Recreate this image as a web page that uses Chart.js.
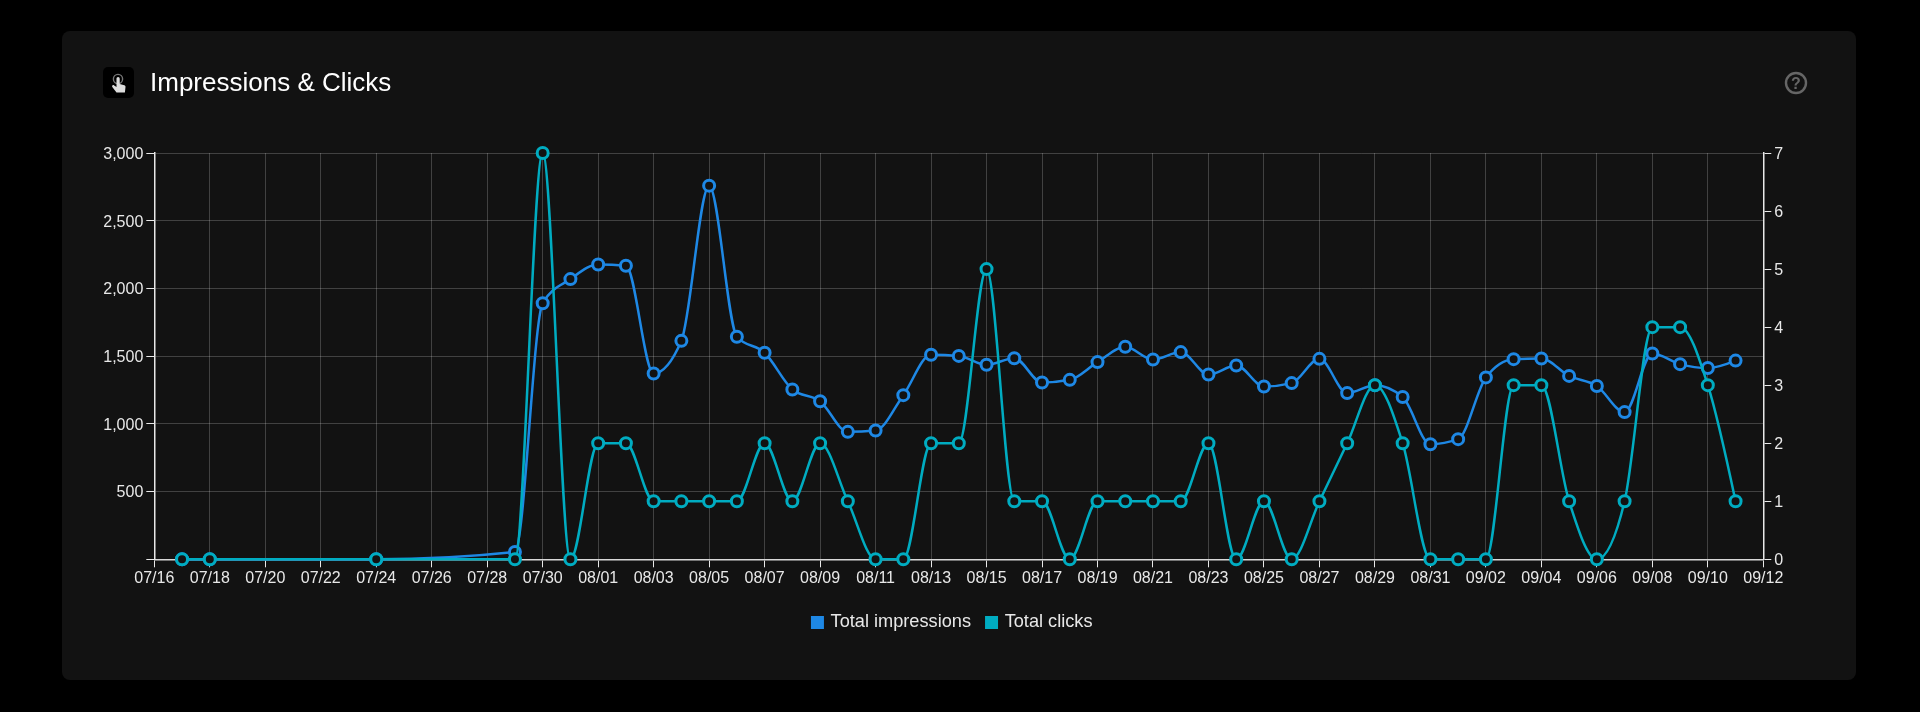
<!DOCTYPE html>
<html>
<head>
<meta charset="utf-8">
<title>Impressions & Clicks</title>
<script src="https://cdn.jsdelivr.net/npm/chart.js@4"></script>
<style>
    html, body { margin: 0; height: 100%; background: #000; overflow: hidden; font-family: "Liberation Sans", Arial, sans-serif; }
    .card { position: absolute; left: 62px; top: 31px; width: 1794px; height: 649px; background: #121212; border-radius: 8px; }
    .icon { position: absolute; left: 40.5px; top: 36px; width: 31px; height: 31px; }
    h1 { position: absolute; left: 88px; top: 35px; margin: 0; font-size: 26px; line-height: 32px; font-weight: 400; color: #fff; }
    .help { position: absolute; left: 1722px; top: 40px; width: 24px; height: 24px; }
    .chart-wrap { position: absolute; left: 0; top: 0; width: 1794px; height: 649px; }
</style>
</head>
<body>
<div class="card">
    <div class="chart-wrap"><canvas id="impressionsChart"></canvas></div>
    <svg class="icon" viewBox="0 0 31 31">
        <rect width="31" height="31" rx="5" fill="#000"/>
        <circle cx="15" cy="12" r="4.6" fill="none" stroke="#777" stroke-width="1.4"/>
        <path d="M13.5 11.5a1.6 1.6 0 0 1 3.2 0v5.5l4.6 1.2c.9.3 1.3 1 1.2 1.9l-.6 5.4h-8.4l-4.2-5.6c-.8-1.2.8-2.4 1.9-1.5l2.3 1.7z" fill="#ddd"/>
    </svg>
    <h1>Impressions &amp; Clicks</h1>
    <svg class="help" viewBox="0 0 24 24">
        <circle cx="12" cy="12" r="10" fill="none" stroke="#666" stroke-width="2.4"/>
        <text x="12" y="17.5" text-anchor="middle" font-size="16" font-weight="700" font-family="Liberation Sans" fill="#666">?</text>
    </svg>
</div>
<script>
const dates = ["07/17", "07/18", "07/24", "07/29", "07/30", "07/31", "08/01", "08/02", "08/03", "08/04",
    "08/05", "08/06", "08/07", "08/08", "08/09", "08/10", "08/11", "08/12", "08/13", "08/14",
    "08/15", "08/16", "08/17", "08/18", "08/19", "08/20", "08/21", "08/22", "08/23", "08/24",
    "08/25", "08/26", "08/27", "08/28", "08/29", "08/30", "08/31", "09/01", "09/02", "09/03",
    "09/04", "09/05", "09/06", "09/07", "09/08", "09/09", "09/10", "09/11"];
const impressions = [0, 0, 0, 54, 1891, 2069, 2177, 2167, 1372, 1613,
    2759, 1643, 1525, 1254, 1167, 941, 951, 1212, 1510, 1502,
    1436, 1485, 1305, 1325, 1456, 1569, 1475, 1530, 1364, 1431,
    1276, 1301, 1480, 1227, 1285, 1198, 850, 887, 1343, 1478,
    1483, 1354, 1280, 1087, 1520, 1441, 1412, 1467];
const clicks = [0, 0, 0, 0, 7, 0, 2, 2, 1, 1,
    1, 1, 2, 1, 2, 1, 0, 0, 2, 2,
    5, 1, 1, 0, 1, 1, 1, 1, 2, 0,
    1, 0, 1, 2, 3, 2, 0, 0, 0, 3,
    3, 1, 0, 1, 4, 4, 3, 1];
const firstDay = "07/16";
const lastDay = "09/12";

const DAY = 86400000;
function dayMs(label) {
    const [m, d] = label.split("/").map(Number);
    return Date.UTC(2023, m - 1, d);
}
function dayOffset(label) {
    return (dayMs(label) - dayMs(firstDay)) / DAY;
}
function dayLabel(offset) {
    const d = new Date(dayMs(firstDay) + offset * DAY);
    return String(d.getUTCMonth() + 1).padStart(2, "0") + "/" + String(d.getUTCDate()).padStart(2, "0");
}
function toPoints(values) {
    return values.map((y, i) => ({ x: dayOffset(dates[i]), y }));
}

const BLUE = "#1e88e5";
const TEAL = "#00acc1";
const CARD = "#121212";
const TEXT = "#e8e8e8";
const GRID = "rgba(255,255,255,0.2)";
const font = { family: "'Liberation Sans', Arial, sans-serif", size: 16 };

// the original curve keeps tangents smaller than Chart.js' monotone does,
// so recompute the control points from the laid out points before drawing
const monotoneCurve = {
    id: "monotoneCurve",
    afterLayout(chart) {
        // legend sits a little left of the card centre in the original
        chart.legend.left -= 6;
        chart.legend.right -= 6;
    },
    beforeDatasetsDraw(chart) {
        chart.data.datasets.forEach((_, i) => {
            const meta = chart.getDatasetMeta(i);
            const pts = meta.data;
            const n = pts.length;
            const slopes = [];
            for (let k = 0; k < n - 1; k++) {
                slopes.push((pts[k + 1].y - pts[k].y) / (pts[k + 1].x - pts[k].x));
            }
            const tangents = new Array(n).fill(0);
            for (let k = 1; k < n - 1; k++) {
                const h0 = pts[k].x - pts[k - 1].x;
                const h1 = pts[k + 1].x - pts[k].x;
                const s0 = slopes[k - 1];
                const s1 = slopes[k];
                const p = (s0 * h1 + s1 * h0) / (h0 + h1);
                tangents[k] = (Math.sign(s0) + Math.sign(s1)) *
                    Math.min(Math.abs(s0), Math.abs(s1), 0.5 * Math.abs(p));
            }
            tangents[0] = (3 * slopes[0] - tangents[1]) / 2;
            tangents[n - 1] = (3 * slopes[n - 2] - tangents[n - 2]) / 2;
            for (let k = 0; k < n - 1; k++) {
                const dx = (pts[k + 1].x - pts[k].x) / 3;
                pts[k].cp2x = pts[k].x + dx;
                pts[k].cp2y = pts[k].y + dx * tangents[k];
                pts[k + 1].cp1x = pts[k + 1].x - dx;
                pts[k + 1].cp1y = pts[k + 1].y - dx * tangents[k + 1];
            }
            meta.dataset._pointsUpdated = true;
        });
    }
};

function lineDataset(label, values, color, yAxisID, order) {
    return {
        label,
        data: toPoints(values),
        yAxisID,
        order,
        borderColor: color,
        backgroundColor: color,
        borderWidth: 2.5,
        cubicInterpolationMode: "monotone",
        pointRadius: 5.5,
        pointBorderWidth: 3,
        pointBackgroundColor: CARD,
        pointBorderColor: color,
        clip: false
    };
}

// rect point style lets the square overhang its box, which tightens the gap to the text
function legendLabels(chart) {
    return Chart.defaults.plugins.legend.labels.generateLabels(chart).map(item => {
        const color = chart.data.datasets[item.datasetIndex].borderColor;
        return { ...item, fillStyle: color, strokeStyle: color, lineWidth: 0 };
    });
}

new Chart(document.getElementById("impressionsChart"), {
    type: "line",
    plugins: [monotoneCurve],
    data: {
        datasets: [
            lineDataset("Total impressions", impressions, BLUE, "y", 2),
            lineDataset("Total clicks", clicks, TEAL, "y1", 1)
        ]
    },
    options: {
        responsive: true,
        maintainAspectRatio: false,
        animation: false,
        layout: { padding: { top: 122, bottom: 38.5 } },
        plugins: {
            tooltip: { enabled: false },
            legend: {
                position: "bottom",
                labels: {
                    color: TEXT,
                    usePointStyle: true,
                    pointStyle: "rect",
                    boxWidth: 8,
                    boxHeight: 13,
                    padding: 16.5,
                    font: { family: font.family, size: 18.2 },
                    generateLabels: legendLabels,
                    sort: (a, b) => a.datasetIndex - b.datasetIndex
                }
            }
        },
        scales: {
            x: {
                type: "linear",
                min: 0,
                max: dayOffset(lastDay),
                afterFit: axis => { axis.height = 37.5; },
                border: { color: "#d8d8d8", width: 1.5 },
                grid: { color: GRID, tickColor: "#e8e8e8", tickLength: 8 },
                ticks: {
                    stepSize: 2,
                    autoSkip: false,
                    maxRotation: 0,
                    padding: 2,
                    color: TEXT,
                    font,
                    callback: v => dayLabel(v)
                }
            },
            y: {
                position: "left",
                min: 0,
                max: 3000,
                afterFit: axis => { axis.width = 92.3; },
                border: { color: "#e8e8e8", width: 1.5 },
                grid: { color: GRID, tickColor: "#e8e8e8", tickLength: 8 },
                ticks: {
                    stepSize: 500,
                    padding: 3,
                    labelOffset: 1.5,
                    color: TEXT,
                    font,
                    callback: v => (v === 0 ? "" : v.toLocaleString("en-US"))
                }
            },
            y1: {
                position: "right",
                min: 0,
                max: 7,
                afterFit: axis => { axis.width = 92.7; },
                border: { color: "#e8e8e8", width: 1.5 },
                grid: { drawOnChartArea: false, tickColor: "#e8e8e8", tickLength: 8 },
                ticks: { stepSize: 1, padding: 3, labelOffset: 1.5, color: TEXT, font }
            }
        }
    }
});
</script>
</body>
</html>
